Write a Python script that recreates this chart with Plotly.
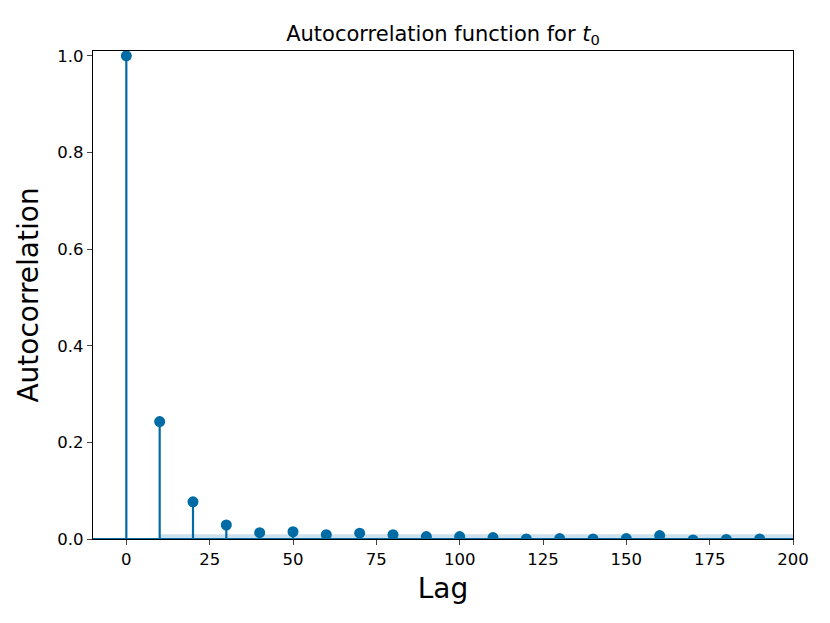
import plotly.graph_objects as go

lags = [0, 10, 20, 30, 40, 50, 60, 70, 80, 90, 100, 110, 120, 130, 140, 150, 160, 170, 180, 190]
acf = [1.0, 0.243, 0.077, 0.029, 0.013, 0.015, 0.009, 0.012, 0.009, 0.005,
       0.005, 0.003, 0.0, 0.001, 0.0, 0.001, 0.007, -0.002, -0.001, 0.0]
band_x = [10, 200]
band_hi = [0.01, 0.01]
band_lo = [-0.01, -0.01]
x_ticks = [0, 25, 50, 75, 100, 125, 150, 175, 200]
y_ticks = [0.0, 0.2, 0.4, 0.6, 0.8, 1.0]

color = "#006BA4"
font = "DejaVu Sans"

fig = go.Figure()
fig.add_trace(go.Scatter(x=band_x, y=band_lo, mode="lines", line=dict(width=0),
                         showlegend=False, hoverinfo="skip"))
fig.add_trace(go.Scatter(x=band_x, y=band_hi, mode="lines", line=dict(width=0),
                         fill="tonexty", fillcolor="rgba(0,107,164,0.2)",
                         showlegend=False, hoverinfo="skip"))

sx, sy = [], []
for l, v in zip(lags, acf):
    sx += [l, l, None]
    sy += [0, v, None]
fig.add_trace(go.Scatter(x=sx, y=sy, mode="lines", line=dict(color=color, width=2.2),
                         showlegend=False))
fig.add_trace(go.Scatter(x=[-10, 200], y=[0, 0], mode="lines",
                         line=dict(color=color, width=2), showlegend=False))
fig.add_trace(go.Scatter(x=lags, y=acf, mode="markers",
                         marker=dict(color=color, size=11), showlegend=False))

fig.update_layout(
    width=822, height=615,
    margin=dict(l=85, r=37, t=43, b=84),
    plot_bgcolor="white", paper_bgcolor="white",
    font=dict(family=font, size=16.5, color="black"),
    title=dict(text="Autocorrelation function for <i>t</i><sub>0</sub>",
               x=0.5, xanchor="center", xref="paper", y=0.959, yanchor="middle",
               font=dict(size=21)),
    xaxis=dict(range=[-10, 200], tickvals=x_ticks, ticks="outside", ticklen=5,
               showline=True, linecolor="black", linewidth=1.2, mirror=True,
               showgrid=False, zeroline=False,
               title=dict(text="Lag", font=dict(size=28), standoff=10)),
    yaxis=dict(range=[0, 1.01], tickvals=y_ticks, tickformat=".1f", ticks="outside",
               ticklen=5, showline=True, linecolor="black", linewidth=1.2, mirror=True,
               showgrid=False, zeroline=False,
               title=dict(text="Autocorrelation", font=dict(size=28), standoff=10)),
)

fig.write_html("out.html")
